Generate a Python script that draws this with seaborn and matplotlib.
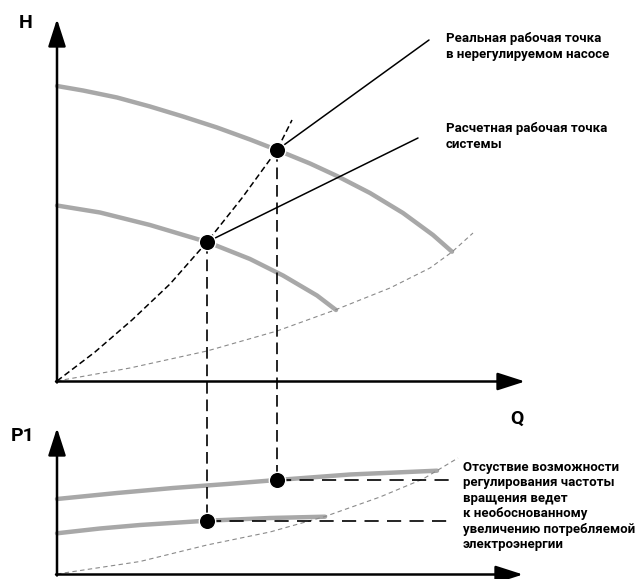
import matplotlib
matplotlib.use("Agg")
import matplotlib.pyplot as plt
import seaborn as sns
import pandas as pd

# ---- data (schematic, in picture units: x = Q, y = height down) ----
# upper diagram H(Q)
q_pump_hi = [57, 83, 117, 150, 183, 217, 250, 277, 310, 337, 370, 403, 433, 452]
h_pump_hi = [86, 90.5, 97.5, 106.5, 116.5, 127.5, 139.5, 150, 163.5, 176, 193, 213, 235, 251.7]
q_pump_lo = [57, 100, 150, 208, 250, 283, 317, 336]
h_pump_lo = [205.5, 212.5, 225, 242.3, 259, 275.5, 295.5, 310]
q_system = [57, 95, 132, 170, 207, 242, 277, 292]
h_system = [381, 352, 320, 284, 242, 198, 150, 120]
q_grey = [57, 130, 207, 277, 335, 390, 430, 452, 473]
h_grey = [381, 368, 351, 331, 310, 288, 268, 252, 233]
q_ops = [207, 277]
h_ops = [242, 150]

# lower diagram P1(Q)
q_p_hi = [57, 117, 173, 227, 277, 350, 437]
p_hi = [499, 493, 488, 484, 480, 474.5, 470.7]
q_p_lo = [57, 100, 140, 207, 270, 325]
p_lo = [533.3, 528.5, 525, 520.7, 518, 516.7]
q_p_grey = [57, 140, 207, 270, 325, 380, 423, 458]
p_grey = [574, 561.5, 545, 532, 516.5, 497, 479, 458]
p_ops = [520.7, 480]

labels_top = ["Реальная рабочая точка\nв нерегулируемом насосе",
              "Расчетная рабочая точка\nсистемы"]
label_bottom = ("Отсуствие возможности\nрегулирования частоты\nвращения ведет\n"
                "к необоснованному\nувеличению потребляемой\nэлектроэнергии")
axis_labels = ["H", "Q", "P1"]

# ---- figure ----
sns.set_theme(style="white")
plt.rcParams["font.family"] = ["Roboto", "DejaVu Sans"]
plt.rcParams["text.color"] = "black"

fig = plt.figure(figsize=(6.43, 5.79), dpi=100)
ax = fig.add_axes([0, 0, 1, 1])
ax.set_xlim(0, 643)
ax.set_ylim(579, 0)
ax.axis("off")

GREY = "#a8a8a8"
GREY_D = "#8a8a8a"

def curve(x, y, **kw):
    df = pd.DataFrame({"x": x, "y": y})
    sns.lineplot(data=df, x="x", y="y", ax=ax, sort=False, estimator=None, **kw)

# pump curves
for qx, hy in [(q_pump_hi, h_pump_hi), (q_pump_lo, h_pump_lo),
               (q_p_hi, p_hi), (q_p_lo, p_lo)]:
    curve(qx, hy, color=GREY, lw=3.2, solid_capstyle="round", solid_joinstyle="round")

# grey thin dashed curves
l1, = ax.plot(q_grey, h_grey, color=GREY_D, lw=0.8)
l1.set_dashes([4, 3])
l2, = ax.plot(q_p_grey, p_grey, color=GREY_D, lw=0.8)
l2.set_dashes([4, 3])

# system curve (black dashed)
ls, = ax.plot(q_system, h_system, color="black", lw=1.1)
ls.set_dashes([4, 2.2])

# vertical projection lines
for q, h, p in zip(q_ops, h_ops, p_ops):
    lv, = ax.plot([q, q], [h, p], color="black", lw=1.2)
    lv.set_dashes([7, 3.5])

# horizontal dashed lines in P1 diagram
for q, p in zip(q_ops, p_ops):
    lh, = ax.plot([q, 453], [p, p], color="black", lw=1.2)
    lh.set_dashes([8.5, 5])

# leader lines
ax.plot([q_ops[1], 429], [h_ops[1], 40], color="black", lw=1.1)
ax.plot([q_ops[0], 418], [h_ops[0], 138], color="black", lw=1.1)

# operating points
sns.scatterplot(x=q_ops + q_ops, y=h_ops + p_ops, ax=ax, s=140, color="black",
                edgecolor="white", linewidth=1.0, zorder=5)

# axes with arrows
arrow = dict(arrowstyle="-|>,head_length=1.4,head_width=0.45", lw=1.8,
             color="black", shrinkA=0, shrinkB=0)
ax.annotate("", xy=(57, 19), xytext=(57, 382.5), arrowprops=arrow)
ax.annotate("", xy=(525, 381.5), xytext=(56, 381.5), arrowprops=arrow)
ax.annotate("", xy=(57, 428), xytext=(57, 575.5), arrowprops=arrow)
ax.annotate("", xy=(523, 574.5), xytext=(56, 574.5), arrowprops=arrow)

# axis labels
ax.text(25.5, 23.5, axis_labels[0], fontsize=14, fontweight="bold", ha="center", va="center")
ax.text(517, 419, axis_labels[1], fontsize=14, fontweight="bold", ha="center", va="center")
ax.text(23, 436, axis_labels[2], fontsize=14, fontweight="bold", ha="center", va="center")

# annotations
ax.text(446, 46.5, labels_top[0], fontsize=9.5, fontweight="bold", ha="left", va="center",
        linespacing=1.25)
ax.text(446, 136.5, labels_top[1], fontsize=9.5, fontweight="bold", ha="left", va="center",
        linespacing=1.25)
ax.text(463, 506, label_bottom, fontsize=9.5, fontweight="bold", ha="left", va="center",
        linespacing=1.25)

fig.savefig("out.png", dpi=100, facecolor="white")
